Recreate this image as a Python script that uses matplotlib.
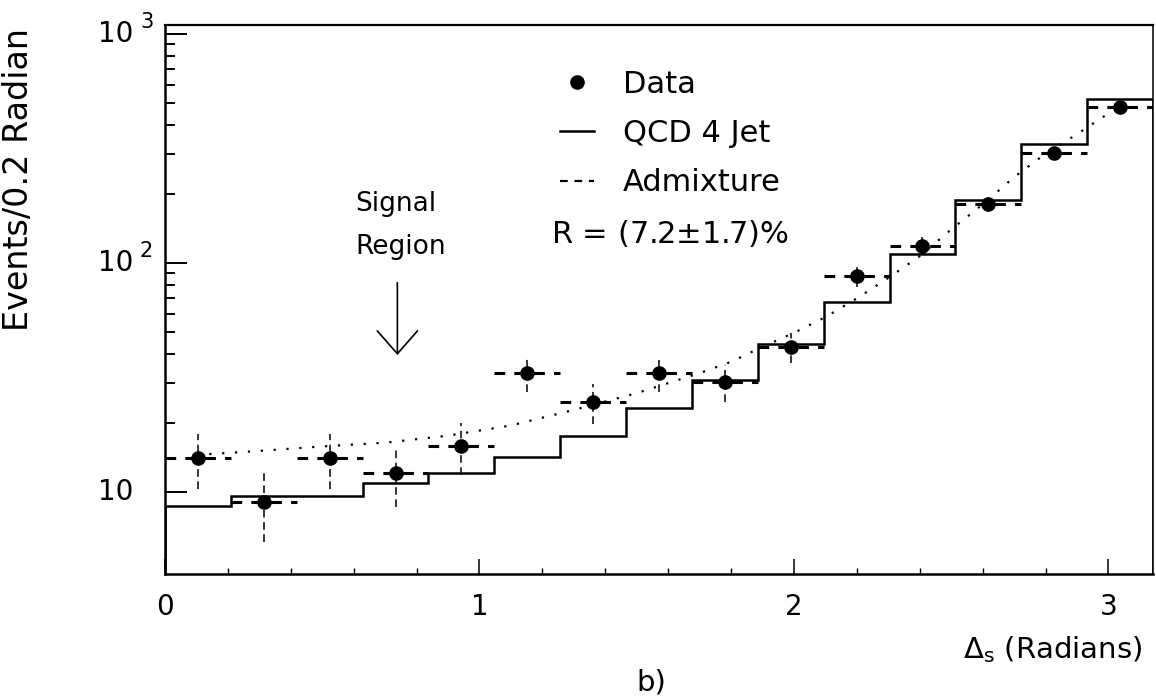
import numpy as np
import matplotlib.pyplot as plt
from matplotlib.lines import Line2D
from matplotlib.ticker import FixedLocator, NullFormatter

plt.rcParams['font.family'] = ['DejaVu Sans']
plt.rcParams['mathtext.default'] = 'regular'

# 15 bins of pi/15 rad between 0 and pi
n_bins = 15
bin_edges = np.linspace(0.0, np.pi, n_bins + 1)
bin_centers = 0.5 * (bin_edges[:-1] + bin_edges[1:])

data_counts = [14.1, 9.05, 14.1, 12.1, 15.9, 33.1, 24.7, 33.1, 30.2, 43.0,
               87.8, 119.0, 181.0, 303.0, 479.0]
data_err = [3.8, 3.0, 3.8, 3.5, 4.0, 5.8, 5.0, 5.8, 5.5, 6.6,
            9.4, 10.9, 13.5, 17.4, 21.9]
qcd_counts = [8.7, 9.6, 9.6, 10.9, 12.1, 14.2, 17.6, 23.3, 30.8, 44.4,
              67.6, 109.0, 188.0, 330.0, 520.0]
admix_counts = [14.1, 9.05, 14.1, 12.1, 15.9, 33.1, 24.7, 33.1, 30.2, 43.0,
                87.8, 119.0, 181.0, 303.0, 479.0]

# smooth fit curve (dotted)
fit_x = [0.10, 0.30, 0.50, 0.70, 0.90, 1.10, 1.30, 1.50, 1.70, 1.80, 1.90,
         2.00, 2.10, 2.20, 2.30, 2.40, 2.50, 2.60, 2.70, 2.80, 2.90, 3.00, 3.04]
fit_y = [14.5, 15.1, 15.8, 16.4, 17.6, 19.5, 22.8, 27.0, 33.0, 37.0, 43.0,
         49.5, 58.0, 70.0, 86.0, 107.0, 140.0, 180.0, 237.0, 300.0, 365.0,
         450.0, 480.0]

decades = [10, 100, 1000]
decade_exp = ['', '2', '3']

signal_x = 0.739
arrow_from, arrow_to = 82.0, 39.6

fig = plt.figure(figsize=(11.56, 6.96), dpi=100)
ax = fig.add_axes([0.1427, 0.1753, 0.8547, 0.7888])
ax.set_yscale('log')
ax.set_xlim(0, np.pi)
ax.set_ylim(4.38, 1094)

# QCD 4 jet prediction
ax.stairs(qcd_counts, bin_edges, color='black', lw=1.8, zorder=3)

# admixture: dashed level in every bin
ax.hlines(admix_counts, bin_edges[:-1], bin_edges[1:], colors='black',
          linestyles=(0, (3.5, 3)), lw=2.2, zorder=3)

# data points with vertical error bars
ax.vlines(bin_centers, np.array(data_counts) - np.array(data_err),
          np.array(data_counts) + np.array(data_err), colors='black',
          linestyles=(0, (5, 3)), lw=1.1, zorder=4)
ax.plot(bin_centers, data_counts, 'o', color='black', ms=9.5, zorder=5)

# fit
ax.plot(fit_x, fit_y, color='black', lw=1.6, linestyle=(0, (1, 4.8)), zorder=2)

# signal region arrow
ax.annotate('', xy=(signal_x, arrow_to), xytext=(signal_x, arrow_from),
            arrowprops=dict(arrowstyle='->, head_length=1.65, head_width=1.45',
                            mutation_scale=10, color='black', lw=1.2,
                            shrinkA=0, shrinkB=0))
ax.text(0.605, 146, 'Signal\nRegion', ha='left', va='center', fontsize=19,
        linespacing=1.85)

# legend
handles = [
    Line2D([], [], marker='o', ls='none', color='black', ms=9.5),
    Line2D([], [], color='black', lw=1.8),
    Line2D([], [], color='black', lw=1.6, ls=(0, (3.5, 3))),
]
leg = ax.legend(handles, ['Data', 'QCD 4 Jet', 'Admixture'], loc='upper left',
                bbox_to_anchor=(0.3998, 0.918), frameon=False, fontsize=22,
                handlelength=1.1, handletextpad=0.95, labelspacing=0.66,
                borderaxespad=0, borderpad=0)
ax.text(1.226, 135, r'R = (7.2$\pm$1.7)%', fontsize=22, ha='left', va='center')

# axes styling
for side, w in (('left', 1.8), ('bottom', 1.8), ('top', 1.6), ('right', 1.1)):
    ax.spines[side].set_linewidth(w)

ax.yaxis.set_major_locator(FixedLocator(decades))
ax.yaxis.set_major_formatter(NullFormatter())
ytrans = ax.get_yaxis_transform()
for d, e in zip(decades, decade_exp):
    ax.text(-0.0324, d, '10', transform=ytrans, fontsize=20,
            ha='right', va='center')
    if e:
        ax.annotate(e, xy=(-0.0324, d), xycoords=ytrans, xytext=(5, 8.5),
                    textcoords='offset points', fontsize=15,
                    ha='left', va='center')
ax.yaxis.set_minor_locator(FixedLocator(
    [m * d for d in decades for m in range(2, 10)]))
ax.yaxis.set_minor_formatter(NullFormatter())
ax.tick_params(axis='y', which='major', direction='in', length=16, width=1.4)
ax.tick_params(axis='y', which='minor', direction='in', length=7, width=1.4)

ax.xaxis.set_major_locator(FixedLocator([0, 1, 2, 3]))
ax.xaxis.set_minor_locator(FixedLocator(np.arange(0.2, 3.2, 0.2)))
ax.tick_params(axis='x', which='major', direction='in', length=11, width=1.1,
               labelsize=20, pad=14)
ax.tick_params(axis='x', which='minor', direction='in', length=4, width=1.0)

ax.set_ylabel('Events/0.2 Radian', fontsize=24)
ax.yaxis.set_label_coords(-0.1316, 0.7177)

ax.set_xlabel(r'$\Delta_s$ (Radians)', fontsize=21, loc='right')
ax.xaxis.set_label_coords(0.989, -0.138)
ax.xaxis.label.set_va('center')

fig.text(0.563, 0.02, 'b)', fontsize=21, ha='center', va='center')

fig.savefig('out.png', dpi=100)
